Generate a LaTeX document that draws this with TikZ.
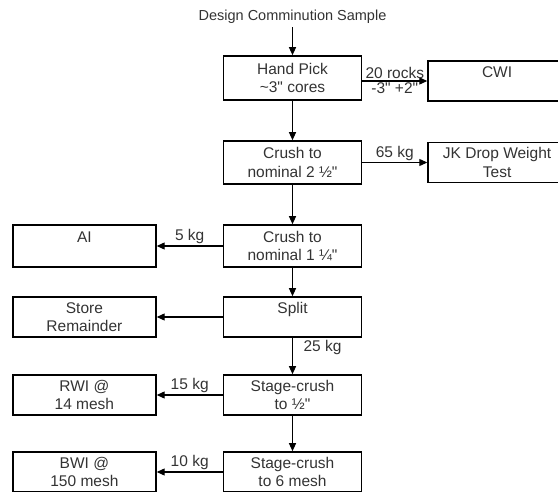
\documentclass[tikz,border=0pt]{standalone}
\usepackage{fontspec}
\setmainfont{Liberation Sans}[Ligatures=TeXOff]
\usepackage{tikz}
\usetikzlibrary{arrows.meta,positioning}
\newcommand{\inq}{\symbol{34}}

\begin{document}
\begin{tikzpicture}[
    x=1pt, y=1pt,
    font=\fontsize{15.5}{18.5}\selectfont,
    box/.style={rectangle, draw, line width=1.6pt, minimum width=138pt, minimum height=40pt, align=center, inner sep=2pt, text=black!80},
    sidebox/.style={box, minimum width=143pt},
    flow/.style={-{Triangle[length=8pt,width=7pt]}, line width=1.1pt},
    lbl/.style={text=black!80, inner sep=1.5pt}
  ]
    \useasboundingbox (0,0) rectangle (558,-491);
    % Nodes
    \node[box, minimum height=44pt] (handpick) at (292.5,-78) {Hand Pick\\\textasciitilde3\inq{} cores};
    \node[text=black!80, font=\fontsize{14.5}{17}\selectfont, above=28pt of handpick] (sample) {Design Comminution Sample};
    \node[box, right=65pt of handpick, yshift=-3pt] (cwi) {CWI\\~};
    \node[box, minimum height=43pt, below=39.4pt of handpick] (crushb) {Crush to\\nominal 2 ½\inq};
    \node[box, right=65pt of crushb] (dwt) {JK Drop Weight\\Test};
    \node[box, minimum height=42pt, below=39.4pt of crushb] (crushc) {Crush to\\nominal 1 ¼\inq};
    \node[sidebox, minimum height=42pt, left=66pt of crushc] (ai) {AI\\~};
    \node[box, below=28.4pt of crushc] (split) {Split\\~};
    \node[sidebox, left=66pt of split] (store) {Store\\Remainder};
    \node[box, below=36.4pt of split] (stageb) {Stage-crush\\to ½\inq};
    \node[sidebox, left=66pt of stageb] (rwi) {RWI @\\14 mesh};
    \node[box, below=35.4pt of stageb] (stagec) {Stage-crush\\to 6 mesh};
    \node[sidebox, left=66pt of stagec] (bwi) {BWI @\\150 mesh};

    % Arrows
    \draw[flow] (sample) -- (handpick);
    \draw[flow] (cwi -| handpick.east) -- node[lbl, above] {20 rocks} node[lbl, below] {-3\inq{} +2\inq} (cwi);
    \draw[flow] (handpick) -- (crushb);
    \draw[flow] (crushb) -- node[lbl, above] {65 kg} (dwt);
    \draw[flow] (crushb) -- (crushc);
    \draw[flow] (crushc) -- node[lbl, above] {5 kg} (ai);
    \draw[flow] (crushc) -- (split);
    \draw[flow] (split) -- (store);
    \draw[flow] (split) -- node[lbl, right=9pt, pos=0.26] {25 kg} (stageb);
    \draw[flow] (stageb) -- node[lbl, above] {15 kg} (rwi);
    \draw[flow] (stageb) -- (stagec);
    \draw[flow] (stagec) -- node[lbl, above] {10 kg} (bwi);
  \end{tikzpicture}
\end{document}
